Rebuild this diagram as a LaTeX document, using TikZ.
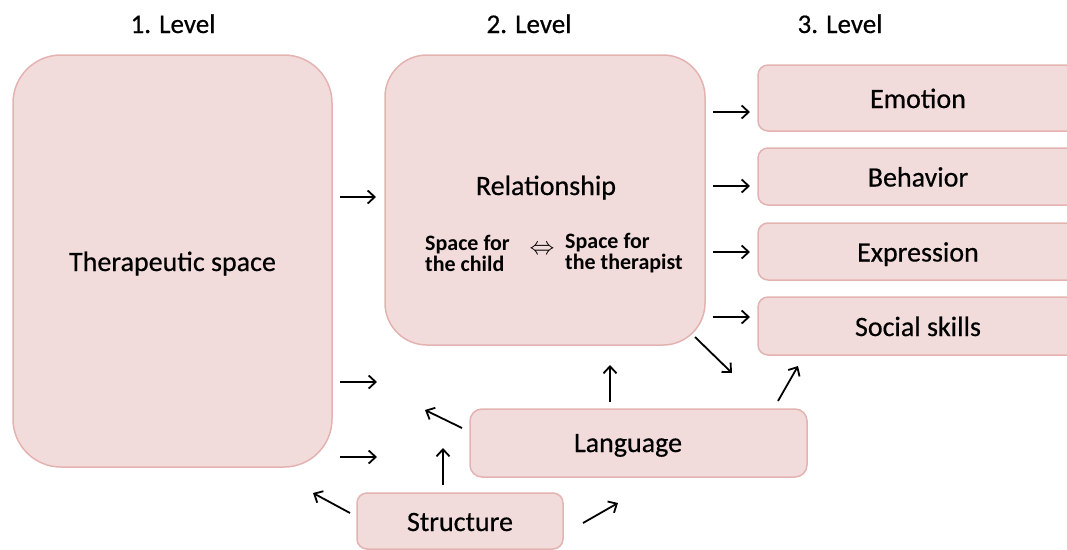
\documentclass[tikz,border=0pt]{standalone}
\usepackage{fontspec}
\setmainfont{Carlito}
\newfontfamily\heavy{Carlito}[FakeBold=0.5]
\usetikzlibrary{arrows.meta}
\definecolor{boxfill}{HTML}{F2DCDB}
\definecolor{boxline}{HTML}{E3B3B2}
\begin{document}
\begin{tikzpicture}[x=1pt,y=-1pt,
  box/.style={draw=boxline,fill=boxfill,line width=1.5pt,inner sep=0pt,
    text height=20pt,text depth=0pt,font=\heavy\fontsize{28}{32}\selectfont},
  lbl/.style={font=\heavy\fontsize{28}{32}\selectfont,anchor=base,inner sep=0pt},
  ttl/.style={font=\heavy\fontsize{27}{32}\selectfont,anchor=base,inner sep=0pt},
  small/.style={font=\bfseries\fontsize{22}{21}\selectfont,align=left,anchor=west,inner sep=0pt},
  arr/.style={-{Straight Barb[length=7pt,width=13pt,line width=1.8pt]},line width=1.8pt,black}]
\useasboundingbox (0,0) rectangle (1067,549);

% titles
\node[ttl] (t1) at (173,33) {1. Level};
\node[ttl] (t2) at (529,33) {2. Level};
\node[ttl] (t3) at (840,33) {3. Level};

% level 1
\node[box,rounded corners=48pt,minimum width=319pt,minimum height=412pt] (ther) at (172.5,261) {Therapeutic space};

% level 2
\node[box,rounded corners=42pt,minimum width=320pt,minimum height=290pt] (rel) at (545,200) {};
\node[lbl] (reltxt) at (546,195) {Relationship};
\node[small] (child) at (425,253) {Space for\\the child};
\node[font=\fontsize{28}{28}\selectfont,inner sep=0pt] (dbl) at (542,250) {$\Leftrightarrow$};
\node[small] (ther2) at (565,253) {Space for\\the therapist};

% level 3
\node[box,rounded corners=10pt,minimum width=320pt,minimum height=66pt] (emo) at (918,98) {Emotion};
\node[box,rounded corners=10pt,minimum width=320pt,minimum height=57pt] (beh) at (918,176.5) {Behavior};
\node[box,rounded corners=10pt,minimum width=320pt,minimum height=57pt] (expr) at (918,251.5) {Expression};
\node[box,rounded corners=10pt,minimum width=320pt,minimum height=58pt] (soc) at (918,326) {Social skills};

% language and structure
\node[box,rounded corners=12pt,minimum width=337pt,minimum height=68pt] (lang) at (638.5,443) {};
\node[lbl] (langtxt) at (628,452) {Language};
\node[box,rounded corners=10pt,minimum width=206pt,minimum height=56pt] (struc) at (460,521) {Structure};

% arrows
\foreach \n/\xa/\ya/\xb/\yb in {
  a1/340/197/376/197, a2/340/382/377/382, a3/340/457/377/457,
  r1/713/112/750/112, r2/713/186/750/186, r3/713/252/750/252, r4/713/317/750/317,
  rd/695/337/732/373, lu/610/402/610/365, ls/778/401/798/366, ll/462/428/425/410,
  su/443/485/443/448, sl/350/513/313/493, sr/583/523/618/503}{
  \coordinate (\n s) at (\xa,\ya);
  \coordinate (\n e) at (\xb,\yb);
  \draw[arr] (\n s) -- (\n e);
}
\end{tikzpicture}
\end{document}
